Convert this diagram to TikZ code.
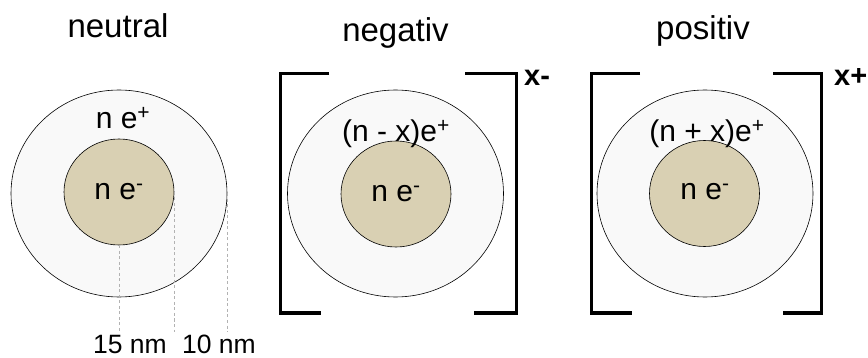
\documentclass[tikz,border=0pt]{standalone}
\usepackage{fontspec}
\setmainfont{Liberation Sans}
\usetikzlibrary{shapes.geometric}
\definecolor{shellgray}{RGB}{249,249,249}
\definecolor{coretan}{RGB}{217,208,179}
\definecolor{dimgray}{RGB}{178,178,178}
\tikzset{
  shell/.style={ellipse,draw,line width=0.6pt,fill=shellgray,inner sep=0pt,
    minimum width=216pt,minimum height=207pt},
  core/.style={ellipse,draw,line width=0.6pt,fill=coretan,inner sep=0pt,
    minimum width=110pt,minimum height=106pt},
  title/.style={anchor=base,inner sep=0pt,font=\fontsize{33}{36}\selectfont},
  charge/.style={anchor=base,inner sep=0pt,font=\fontsize{30}{33}\selectfont},
  ionsign/.style={anchor=base west,inner sep=0pt,font=\fontsize{29}{32}\selectfont\bfseries},
  dimlabel/.style={anchor=base,inner sep=0pt,font=\fontsize{26.5}{29}\selectfont},
  dimline/.style={dimgray,line width=0.6pt,dash pattern=on 3pt off 2.5pt},
  brack/.style={line width=3pt}
}
% bracket pair: left x, right x, left top end, left bottom end, right top start, right bottom start
\newcommand{\ionbrackets}[6]{%
  \draw[brack] (#3,74) -- (#1,74) -- (#1,313) -- (#4,313);
  \draw[brack] (#5,74) -- (#2,74) -- (#2,313) -- (#6,313);
}
\begin{document}
\begin{tikzpicture}[x=1pt,y=-1pt]
\useasboundingbox (0,0) rectangle (868,358);
% neutral
\node[title] (tneu) at (118,38) {neutral};
\node[shell] (neuo) at (119,193.5) {};
\node[core] (neui) at (119,192) {};
\node[charge] (neus) at (123,129) {n e\textsuperscript{+}};
\node[charge] (neuc) at (119,200) {n e\textsuperscript{-}};
\coordinate (d1) at (neui.south |- 0,332);
\coordinate (d2) at (neui.east |- 0,332);
\coordinate (d3) at (neuo.east |- 0,332);
\draw[dimline] (neui.south) -- (d1);
\draw[dimline] (neui.east) -- (d2);
\draw[dimline] (neuo.east) -- (d3);
\node[dimlabel] (r15) at (130,353) {15 nm};
\node[dimlabel] (r10) at (219,353) {10 nm};
% negativ
\node[title] (tneg) at (395.5,42) {negativ};
\node[shell] (nego) at (395.5,193.5) {};
\node[core] (negi) at (396,194) {};
\node[charge] (negs) at (396,142) {(n - x)e\textsuperscript{+}};
\node[charge] (negc) at (396,202) {n e\textsuperscript{-}};
\ionbrackets{280}{516}{329}{321}{465}{474}
\node[ionsign] (xneg) at (524,86) {x-};
% positiv
\node[title] (tpos) at (703,40) {positiv};
\node[shell] (poso) at (705,193.5) {};
\node[core] (posi) at (704.5,193.5) {};
\node[charge] (poss) at (707,142) {(n + x)e\textsuperscript{+}};
\node[charge] (posc) at (705,200) {n e\textsuperscript{-}};
\ionbrackets{591}{821}{640}{632}{773}{783}
\node[ionsign] (xpos) at (834,86) {x+};
\end{tikzpicture}
\end{document}
